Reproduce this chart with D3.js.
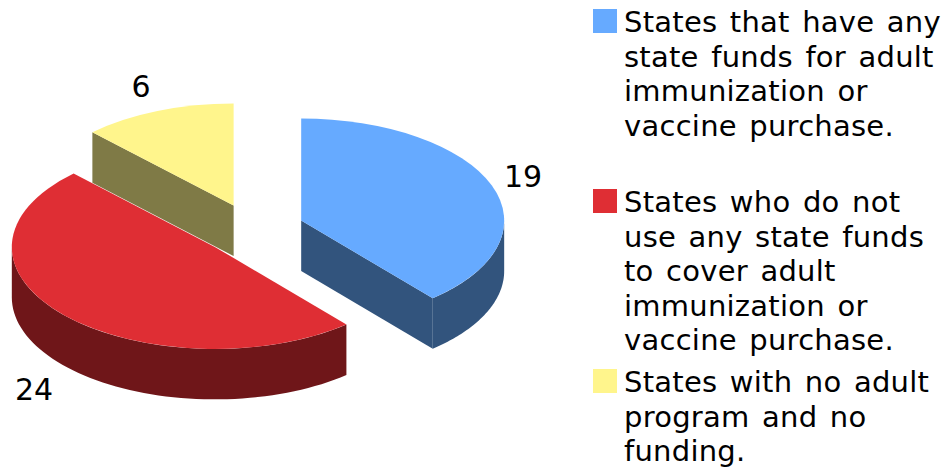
<!DOCTYPE html>
<html>
<head>
<script src="https://d3js.org/d3.v7.min.js"></script>
<style>
body{margin:0;background:#fff}
text{font-family:"DejaVu Sans";fill:#000}
.legend-text{letter-spacing:0.25px;word-spacing:3px}
</style>
</head>
<body>
<script>
var categories=[
	["States that have any","state funds for adult","immunization or","vaccine purchase."],
	["States who do not","use any state funds","to cover adult","immunization or","vaccine purchase."],
	["States with no adult","program and no","funding."]
];
var values=[19,24,6];
var topColors=["#66AAFF","#DF2E34","#FFF58C"];
var sideColors=["#32547D","#6F1619","#7F7A46"];

var width=948,height=473;
var cx=252.9,cy=229.5,rx=203,ry=102,depth=50.5,explode=0.2534;

var svg=d3.select("body").append("svg").attr("width",width).attr("height",height);

var pie=d3.pie().sort(null).value(function(d){return d;});
var slices=pie(values);
var arc=d3.arc().innerRadius(0).outerRadius(rx);
var wall=d3.line();

function centerOf(d){
	var mid=(d.startAngle+d.endAngle)/2;
	return [cx+explode*rx*Math.sin(mid),cy-explode*ry*Math.cos(mid)];
}
function rimPoint(c,a,dy){
	return [c[0]+rx*Math.sin(a),c[1]-ry*Math.cos(a)+dy];
}
function outerWall(c,a0,a1){
	var n=60,top=[],bottom=[];
	d3.range(n+1).forEach(function(i){
		var a=a0+(a1-a0)*i/n;
		top.push(rimPoint(c,a,0));
		bottom.unshift(rimPoint(c,a,depth));
	});
	return wall(top.concat(bottom))+"Z";
}
function cutFace(c,a){
	var p=rimPoint(c,a,0);
	return wall([c,p,[p[0],p[1]+depth],[c[0],c[1]+depth]])+"Z";
}

// draw back to front: yellow, blue, red
[2,0,1].forEach(function(i){
	var d=slices[i],c=centerOf(d);
	var g=svg.append("g");
	var side=sideColors[i];
	if(i==2){
		g.append("path").attr("d",cutFace(c,d.startAngle)).attr("fill",side);
	}
	if(i==0){
		g.append("path").attr("d",cutFace(c,d.endAngle)).attr("fill",side);
		g.append("path").attr("d",outerWall(c,Math.PI/2,d.endAngle)).attr("fill",side);
	}
	if(i==1){
		g.append("path").attr("d",outerWall(c,d.startAngle,Math.PI*1.5)).attr("fill",side);
	}
	g.append("path")
		.attr("d",arc(d))
		.attr("transform","translate("+c[0]+","+c[1]+") scale(1,"+(ry/rx)+")")
		.attr("fill",topColors[i]);
});

// value labels
var labelPos=[[523,187],[34,400],[141,97]];
values.forEach(function(v,i){
	svg.append("text").attr("x",labelPos[i][0]).attr("y",labelPos[i][1])
		.attr("text-anchor","middle").style("font-size","30px").text(v);
});

// legend
var legendTop=[22,202,382];
categories.forEach(function(lines,i){
	svg.append("rect").attr("x",593).attr("y",legendTop[i]-13).attr("width",24).attr("height",24).attr("fill",topColors[i]);
	lines.forEach(function(t,j){
		svg.append("text").attr("class","legend-text").attr("x",624).attr("y",legendTop[i]+10+j*34.5).style("font-size","29px").text(t);
	});
});
</script>
</body>
</html>
